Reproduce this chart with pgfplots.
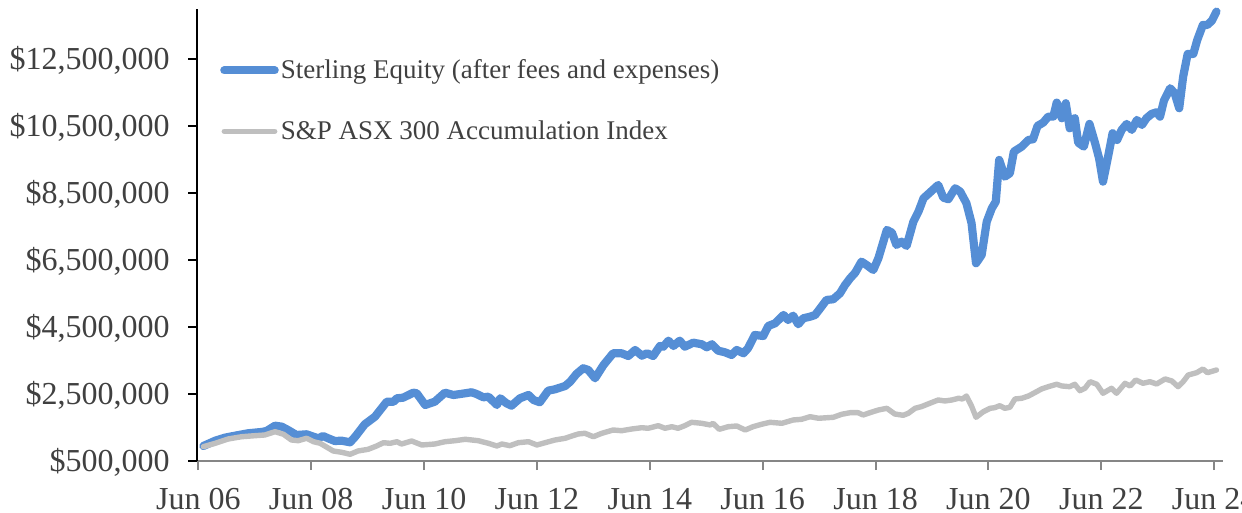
\documentclass[border=0pt]{standalone}
\usepackage{fontspec}
\setmainfont{Liberation Serif}
\usepackage{pgfplots}
\pgfplotsset{compat=1.18}
\usepackage{pgfplotstable}
\definecolor{sterling}{RGB}{85,142,213}
\definecolor{asx}{RGB}{191,191,191}
\definecolor{txt}{RGB}{64,64,64}
\definecolor{xaxis}{RGB}{134,134,134}

\pgfplotstableread{
yr val
2006.59 948000
2006.80 1106000
2006.97 1196000
2007.15 1255000
2007.38 1327000
2007.62 1366000
2007.71 1396000
2007.86 1554000
2007.98 1524000
2008.09 1425000
2008.24 1276000
2008.42 1297000
2008.54 1225000
2008.63 1178000
2008.71 1246000
2008.80 1178000
2008.92 1097000
2009.04 1106000
2009.19 1058000
2009.28 1225000
2009.45 1596000
2009.63 1822000
2009.84 2270000
2009.96 2270000
2010.02 2372000
2010.13 2390000
2010.31 2539000
2010.37 2521000
2010.52 2172000
2010.69 2270000
2010.87 2539000
2011.02 2470000
2011.23 2521000
2011.34 2551000
2011.43 2500000
2011.55 2401000
2011.64 2419000
2011.79 2172000
2011.85 2372000
2011.96 2222000
2012.05 2151000
2012.20 2372000
2012.35 2470000
2012.44 2321000
2012.55 2252000
2012.70 2599000
2012.82 2640000
2013.00 2739000
2013.09 2867000
2013.20 3097000
2013.32 3267000
2013.41 3216000
2013.53 2969000
2013.68 3366000
2013.85 3715000
2014.00 3715000
2014.12 3634000
2014.24 3813000
2014.36 3643000
2014.45 3715000
2014.56 3634000
2014.68 3933000
2014.74 3912000
2014.83 4091000
2014.92 3933000
2015.03 4091000
2015.12 3912000
2015.27 4031000
2015.42 3984000
2015.51 3894000
2015.60 3984000
2015.71 3793000
2015.83 3745000
2015.95 3664000
2016.04 3813000
2016.16 3715000
2016.24 3864000
2016.36 4261000
2016.51 4231000
2016.60 4530000
2016.72 4610000
2016.87 4858000
2016.95 4709000
2017.04 4837000
2017.13 4581000
2017.22 4760000
2017.34 4807000
2017.43 4858000
2017.52 5058000
2017.63 5306000
2017.75 5327000
2017.87 5506000
2017.96 5754000
2018.05 5954000
2018.14 6121000
2018.25 6449000
2018.34 6351000
2018.46 6201000
2018.55 6551000
2018.70 7396000
2018.79 7315000
2018.87 6948000
2018.96 7046000
2019.05 6918000
2019.17 7643000
2019.26 7942000
2019.35 8342000
2019.46 8509000
2019.61 8739000
2019.70 8360000
2019.79 8312000
2019.91 8640000
2020.00 8539000
2020.11 8193000
2020.20 7604000
2020.28 6401000
2020.38 6649000
2020.47 7643000
2020.56 8043000
2020.63 8240000
2020.69 9485000
2020.79 8987000
2020.88 9088000
2020.95 9733000
2021.09 9882000
2021.21 10082000
2021.29 10103000
2021.37 10500000
2021.47 10599000
2021.56 10778000
2021.65 10778000
2021.71 11196000
2021.80 10730000
2021.87 11178000
2021.94 10431000
2022.03 10730000
2022.09 10001000
2022.19 9882000
2022.29 10560000
2022.39 9984000
2022.46 9536000
2022.53 8837000
2022.62 9584000
2022.70 10282000
2022.78 10082000
2022.86 10381000
2022.95 10560000
2023.04 10381000
2023.13 10679000
2023.22 10530000
2023.30 10730000
2023.39 10858000
2023.48 10909000
2023.54 10778000
2023.61 11255000
2023.72 11625000
2023.80 11476000
2023.88 11028000
2023.95 11972000
2024.03 12649000
2024.13 12649000
2024.20 13067000
2024.30 13515000
2024.38 13515000
2024.46 13643000
2024.54 13912000
}\sterlingdata

\pgfplotstableread{
yr val
2006.59 927000
2006.80 1028000
2007.03 1157000
2007.27 1225000
2007.50 1255000
2007.68 1276000
2007.86 1375000
2008.01 1297000
2008.15 1127000
2008.27 1106000
2008.42 1178000
2008.54 1076000
2008.66 1028000
2008.78 909000
2008.89 799000
2009.04 760000
2009.19 700000
2009.33 799000
2009.51 849000
2009.66 948000
2009.78 1046000
2009.90 1028000
2010.02 1076000
2010.10 1007000
2010.28 1097000
2010.46 978000
2010.69 1007000
2010.87 1076000
2011.05 1106000
2011.23 1148000
2011.46 1106000
2011.64 1028000
2011.79 948000
2011.88 1007000
2012.02 957000
2012.17 1046000
2012.35 1076000
2012.50 978000
2012.67 1058000
2012.82 1127000
2013.00 1178000
2013.12 1246000
2013.23 1306000
2013.35 1327000
2013.50 1225000
2013.65 1327000
2013.85 1425000
2014.00 1404000
2014.18 1455000
2014.36 1494000
2014.47 1476000
2014.65 1554000
2014.77 1476000
2014.89 1524000
2015.00 1476000
2015.12 1554000
2015.24 1655000
2015.42 1625000
2015.57 1575000
2015.62 1625000
2015.73 1446000
2015.89 1524000
2016.04 1545000
2016.19 1425000
2016.33 1524000
2016.48 1596000
2016.63 1655000
2016.84 1625000
2017.04 1724000
2017.19 1745000
2017.34 1822000
2017.49 1775000
2017.75 1804000
2017.90 1894000
2018.05 1942000
2018.19 1942000
2018.28 1873000
2018.40 1942000
2018.55 2022000
2018.70 2073000
2018.84 1903000
2018.99 1864000
2019.08 1924000
2019.20 2073000
2019.31 2121000
2019.46 2222000
2019.61 2321000
2019.73 2291000
2019.85 2321000
2019.97 2372000
2020.04 2351000
2020.11 2440000
2020.20 2142000
2020.28 1804000
2020.41 1972000
2020.53 2073000
2020.61 2091000
2020.70 2151000
2020.79 2073000
2020.88 2103000
2020.97 2351000
2021.09 2372000
2021.21 2440000
2021.32 2539000
2021.44 2649000
2021.56 2718000
2021.71 2790000
2021.80 2739000
2021.94 2718000
2022.03 2790000
2022.12 2599000
2022.21 2670000
2022.30 2867000
2022.42 2790000
2022.53 2521000
2022.68 2670000
2022.77 2521000
2022.92 2819000
2023.01 2739000
2023.11 2918000
2023.24 2819000
2023.36 2867000
2023.48 2799000
2023.63 2948000
2023.75 2888000
2023.86 2718000
2023.95 2867000
2024.04 3067000
2024.19 3136000
2024.30 3246000
2024.38 3136000
2024.54 3216000
}\asxdata

\begin{document}
\begin{tikzpicture}
\begin{axis}[
  scale only axis, width=513pt, height=226pt,
  xmin=2006.477, xmax=2024.656, ymin=500000, ymax=13990000,
  axis x line*=bottom, axis y line*=left,
  x axis line style={draw=xaxis, line width=1pt},
  y axis line style={draw=black, line width=0.75pt},
  xtick={2006.5,2008.5,2010.5,2012.5,2014.5,2016.5,2018.5,2020.5,2022.5,2024.5},
  xticklabels={Jun 06,Jun 08,Jun 10,Jun 12,Jun 14,Jun 16,Jun 18,Jun 20,Jun 22,Jun 24},
  ytick={500000,2500000,4500000,6500000,8500000,10500000,12500000},
  yticklabels={{\$500,000},{\$2,500,000},{\$4,500,000},{\$6,500,000},{\$8,500,000},{\$10,500,000},{\$12,500,000}},
  scaled y ticks=false,
  tick align=outside, major tick length=4.5pt,
  xtick style={draw=xaxis, line width=1pt},
  ytick style={draw=black, line width=0.75pt},
  ticklabel style={font=\fontsize{16}{19}\selectfont, text=txt},
  xticklabel style={anchor=north, inner sep=0pt, yshift=-9pt},
  yticklabel style={anchor=base east, inner sep=0pt, xshift=-9pt, yshift=-5.4pt},
  clip=false,
  legend style={at={(0,1)}, anchor=north west, xshift=11.4pt, yshift=-24pt,
    draw=none, fill=none, font=\fontsize{13.5}{16}\selectfont, text=txt,
    inner sep=0pt, row sep=17.5pt, nodes={inner sep=1pt}},
  legend cell align=left,
  legend image code/.code={\draw[#1, line cap=round] (0pt,0pt) -- (25.2pt,0pt);},
]
\addplot[sterling, line width=4.1pt, line join=round, line cap=round] table[x=yr, y=val] {\sterlingdata};
\addlegendentry{Sterling Equity (after fees and expenses)}
\addplot[asx, line width=2.7pt, line join=round, line cap=round] table[x=yr, y=val] {\asxdata};
\addlegendentry{S\&P ASX 300 Accumulation Index}
\end{axis}
\pgfresetboundingbox
\useasboundingbox (-98.5pt,-26pt) rectangle (522.5pt,230.5pt);
\end{tikzpicture}
\end{document}
